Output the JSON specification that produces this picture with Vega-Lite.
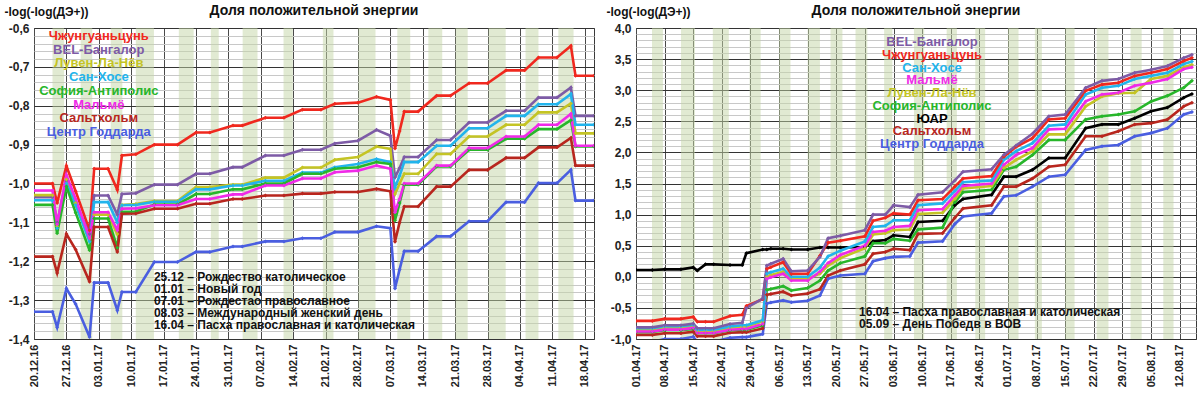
{
  "$schema": "https://vega.github.io/schema/vega-lite/v6.json",
  "background": "white",
  "padding": {"left": 3, "top": 3, "right": 5, "bottom": 0},
  "spacing": 10,
  "config": {
    "font": "Liberation Sans",
    "view": {"stroke": "#3a3a3a", "strokeWidth": 1},
    "axis": {"labelFont": "Liberation Sans", "labelFontWeight": "bold", "labelColor": "#222", "ticks": false, "domain": false, "titleFont": "Liberation Sans", "titleFontWeight": "bold", "titleFontSize": 12, "titleColor": "#111"},
    "axisX": {"labelOverlap": false, "labelBound": false},
    "title": {"font": "Liberation Sans", "fontSize": 14, "fontWeight": "bold", "color": "#111"}
  },
  "datasets": {
    "series": [
      {"s": "R", "name": "Чжунгуаньцунь"},
      {"s": "P", "name": "BEL-Бангалор"},
      {"s": "Y", "name": "Лувен-Ла-Нёв"},
      {"s": "C", "name": "Сан-Хосе"},
      {"s": "G", "name": "София-Антиполис"},
      {"s": "M", "name": "Мальмё"},
      {"s": "K", "name": "ЮАР"},
      {"s": "B", "name": "Сальтхольм"},
      {"s": "U", "name": "Центр Годдарда"}
    ],
    "labelsLeft": [
      {"name": "Чжунгуаньцунь", "k": 1},
      {"name": "BEL-Бангалор", "k": 2},
      {"name": "Лувен-Ла-Нёв", "k": 3},
      {"name": "Сан-Хосе", "k": 4},
      {"name": "София-Антиполис", "k": 5},
      {"name": "Мальмё", "k": 6},
      {"name": "Сальтхольм", "k": 7},
      {"name": "Центр Годдарда", "k": 8}
    ],
    "labelsRight": [
      {"name": "BEL-Бангалор", "k": 1},
      {"name": "Чжунгуаньцунь", "k": 2},
      {"name": "Сан-Хосе", "k": 3},
      {"name": "Мальмё", "k": 4},
      {"name": "Лувен-Ла-Нёв", "k": 5},
      {"name": "София-Антиполис", "k": 6},
      {"name": "ЮАР", "k": 7},
      {"name": "Сальтхольм", "k": 8},
      {"name": "Центр Годдарда", "k": 9}
    ],
    "bandsLeft": [
      {"a": "2016-12-24 00:00", "b": "2016-12-26 12:00"},
      {"a": "2016-12-30 02:00", "b": "2017-01-01 14:00"},
      {"a": "2017-01-05 14:00", "b": "2017-01-08 02:00"},
      {"a": "2017-01-11 00:00", "b": "2017-01-14 22:00"},
      {"a": "2017-01-20 07:00", "b": "2017-01-23 12:00"},
      {"a": "2017-01-27 05:00", "b": "2017-01-28 22:00"},
      {"a": "2017-02-03 02:00", "b": "2017-02-06 07:00"},
      {"a": "2017-02-11 22:00", "b": "2017-02-13 22:00"},
      {"a": "2017-02-20 10:00", "b": "2017-02-22 17:00"},
      {"a": "2017-02-28 02:00", "b": "2017-03-03 19:00"},
      {"a": "2017-03-08 12:00", "b": "2017-03-11 07:00"},
      {"a": "2017-03-15 05:00", "b": "2017-03-18 05:00"},
      {"a": "2017-03-21 02:00", "b": "2017-03-23 17:00"},
      {"a": "2017-03-28 05:00", "b": "2017-03-31 22:00"},
      {"a": "2017-04-05 05:00", "b": "2017-04-08 00:00"},
      {"a": "2017-04-12 07:00", "b": "2017-04-15 14:00"}
    ],
    "bandsRight": [
      {"a": "2017-04-04 22:00", "b": "2017-04-07 14:00"},
      {"a": "2017-04-12 00:00", "b": "2017-04-15 10:00"},
      {"a": "2017-04-19 19:00", "b": "2017-04-23 17:00"},
      {"a": "2017-04-28 19:00", "b": "2017-05-01 12:00"},
      {"a": "2017-05-06 00:00", "b": "2017-05-08 19:00"},
      {"a": "2017-05-13 00:00", "b": "2017-05-16 00:00"},
      {"a": "2017-05-18 14:00", "b": "2017-05-21 12:00"},
      {"a": "2017-05-24 17:00", "b": "2017-05-27 14:00"},
      {"a": "2017-05-31 17:00", "b": "2017-06-02 17:00"},
      {"a": "2017-06-08 00:00", "b": "2017-06-10 12:00"},
      {"a": "2017-06-16 00:00", "b": "2017-06-18 12:00"},
      {"a": "2017-06-23 00:00", "b": "2017-06-25 10:00"},
      {"a": "2017-07-01 00:00", "b": "2017-07-03 14:00"},
      {"a": "2017-07-07 14:00", "b": "2017-07-09 07:00"},
      {"a": "2017-07-15 00:00", "b": "2017-07-17 07:00"},
      {"a": "2017-07-22 17:00", "b": "2017-07-25 14:00"},
      {"a": "2017-07-31 00:00", "b": "2017-08-02 17:00"},
      {"a": "2017-08-08 00:00", "b": "2017-08-10 12:00"}
    ],
    "left": [
      {"d": "2016-12-20", "R": -1.0, "P": -1.035, "Y": -1.03, "C": -1.043, "G": -1.055, "M": -1.018, "B": -1.188, "U": -1.33},
      {"d": "2016-12-24", "R": -1.0, "P": -1.035, "Y": -1.03, "C": -1.043, "G": -1.055, "M": -1.018, "B": -1.188, "U": -1.33},
      {"d": "2016-12-25", "R": -1.05, "P": -1.1, "Y": -1.11, "C": -1.115, "G": -1.128, "M": -1.105, "B": -1.23, "U": -1.37},
      {"d": "2016-12-27", "R": -0.955, "P": -0.993, "Y": -0.99, "C": -1.0, "G": -1.008, "M": -0.978, "B": -1.13, "U": -1.27},
      {"d": "2016-12-29", "R": -1.02, "P": -1.05, "Y": -1.05, "C": -1.055, "G": -1.075, "M": -1.04, "B": -1.17, "U": -1.31},
      {"d": "2017-01-01", "R": -1.12, "P": -1.13, "Y": -1.14, "C": -1.15, "G": -1.172, "M": -1.14, "B": -1.253, "U": -1.395},
      {"d": "2017-01-02", "R": -0.962, "P": -1.031, "Y": -1.08, "C": -1.048, "G": -1.09, "M": -1.074, "B": -1.112, "U": -1.255},
      {"d": "2017-01-05", "R": -0.962, "P": -1.031, "Y": -1.08, "C": -1.048, "G": -1.09, "M": -1.074, "B": -1.112, "U": -1.255},
      {"d": "2017-01-07", "R": -1.016, "P": -1.08, "Y": -1.13, "C": -1.1, "G": -1.165, "M": -1.12, "B": -1.176, "U": -1.326},
      {"d": "2017-01-08", "R": -0.928, "P": -1.027, "Y": -1.055, "C": -1.056, "G": -1.073, "M": -1.065, "B": -1.078, "U": -1.279},
      {"d": "2017-01-11", "R": -0.925, "P": -1.025, "Y": -1.053, "C": -1.055, "G": -1.072, "M": -1.064, "B": -1.077, "U": -1.279},
      {"d": "2017-01-15", "R": -0.9, "P": -1.003, "Y": -1.045, "C": -1.047, "G": -1.054, "M": -1.056, "B": -1.065, "U": -1.202},
      {"d": "2017-01-20", "R": -0.9, "P": -1.003, "Y": -1.045, "C": -1.047, "G": -1.054, "M": -1.056, "B": -1.065, "U": -1.202},
      {"d": "2017-01-24", "R": -0.869, "P": -0.975, "Y": -1.009, "C": -1.015, "G": -1.027, "M": -1.04, "B": -1.052, "U": -1.176},
      {"d": "2017-01-27", "R": -0.869, "P": -0.975, "Y": -1.009, "C": -1.015, "G": -1.027, "M": -1.04, "B": -1.052, "U": -1.176},
      {"d": "2017-02-01", "R": -0.851, "P": -0.958, "Y": -1.003, "C": -1.005, "G": -1.015, "M": -1.028, "B": -1.04, "U": -1.162},
      {"d": "2017-02-03", "R": -0.851, "P": -0.958, "Y": -1.003, "C": -1.005, "G": -1.015, "M": -1.028, "B": -1.04, "U": -1.162},
      {"d": "2017-02-08", "R": -0.831, "P": -0.928, "Y": -0.985, "C": -0.993, "G": -1.0, "M": -1.005, "B": -1.031, "U": -1.149},
      {"d": "2017-02-12", "R": -0.831, "P": -0.928, "Y": -0.985, "C": -0.993, "G": -1.0, "M": -1.005, "B": -1.031, "U": -1.149},
      {"d": "2017-02-16", "R": -0.81, "P": -0.913, "Y": -0.959, "C": -0.972, "G": -0.975, "M": -0.987, "B": -1.026, "U": -1.141},
      {"d": "2017-02-20", "R": -0.81, "P": -0.913, "Y": -0.959, "C": -0.972, "G": -0.975, "M": -0.987, "B": -1.026, "U": -1.141},
      {"d": "2017-02-23", "R": -0.795, "P": -0.897, "Y": -0.939, "C": -0.958, "G": -0.962, "M": -0.971, "B": -1.022, "U": -1.125},
      {"d": "2017-02-28", "R": -0.792, "P": -0.89, "Y": -0.932, "C": -0.95, "G": -0.958, "M": -0.967, "B": -1.022, "U": -1.125},
      {"d": "2017-03-04", "R": -0.777, "P": -0.862, "Y": -0.905, "C": -0.937, "G": -0.945, "M": -0.954, "B": -1.014, "U": -1.11},
      {"d": "2017-03-07", "R": -0.785, "P": -0.877, "Y": -0.911, "C": -0.945, "G": -0.95, "M": -0.962, "B": -1.02, "U": -1.115},
      {"d": "2017-03-08", "R": -0.91, "P": -0.984, "Y": -1.027, "C": -1.01, "G": -1.095, "M": -1.074, "B": -1.15, "U": -1.27},
      {"d": "2017-03-09", "R": -0.865, "P": -0.96, "Y": -1.0, "C": -0.98, "G": -1.05, "M": -1.04, "B": -1.1, "U": -1.221},
      {"d": "2017-03-10", "R": -0.815, "P": -0.932, "Y": -0.975, "C": -0.945, "G": -1.003, "M": -1.0, "B": -1.059, "U": -1.174},
      {"d": "2017-03-13", "R": -0.815, "P": -0.932, "Y": -0.975, "C": -0.945, "G": -1.003, "M": -1.0, "B": -1.059, "U": -1.174},
      {"d": "2017-03-17", "R": -0.774, "P": -0.888, "Y": -0.924, "C": -0.903, "G": -0.956, "M": -0.954, "B": -1.008, "U": -1.136},
      {"d": "2017-03-20", "R": -0.774, "P": -0.888, "Y": -0.924, "C": -0.903, "G": -0.956, "M": -0.954, "B": -1.008, "U": -1.136},
      {"d": "2017-03-24", "R": -0.742, "P": -0.843, "Y": -0.879, "C": -0.858, "G": -0.913, "M": -0.909, "B": -0.965, "U": -1.097},
      {"d": "2017-03-28", "R": -0.742, "P": -0.843, "Y": -0.879, "C": -0.858, "G": -0.913, "M": -0.909, "B": -0.965, "U": -1.097},
      {"d": "2017-04-01", "R": -0.709, "P": -0.813, "Y": -0.849, "C": -0.826, "G": -0.885, "M": -0.879, "B": -0.934, "U": -1.048},
      {"d": "2017-04-05", "R": -0.709, "P": -0.813, "Y": -0.849, "C": -0.826, "G": -0.885, "M": -0.879, "B": -0.934, "U": -1.048},
      {"d": "2017-04-08", "R": -0.676, "P": -0.779, "Y": -0.817, "C": -0.796, "G": -0.86, "M": -0.849, "B": -0.907, "U": -0.999},
      {"d": "2017-04-12", "R": -0.676, "P": -0.779, "Y": -0.817, "C": -0.796, "G": -0.86, "M": -0.849, "B": -0.907, "U": -0.999},
      {"d": "2017-04-15", "R": -0.646, "P": -0.753, "Y": -0.794, "C": -0.77, "G": -0.837, "M": -0.821, "B": -0.883, "U": -0.965},
      {"d": "2017-04-16", "R": -0.723, "P": -0.826, "Y": -0.871, "C": -0.849, "G": -0.905, "M": -0.903, "B": -0.954, "U": -1.044},
      {"d": "2017-04-20", "R": -0.723, "P": -0.826, "Y": -0.871, "C": -0.849, "G": -0.905, "M": -0.903, "B": -0.954, "U": -1.044}
    ],
    "right": [
      {"d": "2017-04-01", "P": -0.813, "R": -0.709, "C": -0.826, "M": -0.879, "Y": -0.849, "G": -0.885, "K": 0.11, "B": -0.934, "U": -1.048},
      {"d": "2017-04-05", "P": -0.813, "R": -0.709, "C": -0.826, "M": -0.879, "Y": -0.849, "G": -0.885, "K": 0.11, "B": -0.934, "U": -1.048},
      {"d": "2017-04-08", "P": -0.779, "R": -0.676, "C": -0.796, "M": -0.849, "Y": -0.817, "G": -0.86, "K": 0.12, "B": -0.907, "U": -0.999},
      {"d": "2017-04-12", "P": -0.779, "R": -0.676, "C": -0.796, "M": -0.849, "Y": -0.817, "G": -0.86, "K": 0.12, "B": -0.907, "U": -0.999},
      {"d": "2017-04-15", "P": -0.753, "R": -0.646, "C": -0.77, "M": -0.821, "Y": -0.794, "G": -0.837, "K": 0.15, "B": -0.883, "U": -0.965},
      {"d": "2017-04-16", "P": -0.826, "R": -0.723, "C": -0.849, "M": -0.903, "Y": -0.871, "G": -0.905, "K": 0.1, "B": -0.954, "U": -1.044},
      {"d": "2017-04-18", "P": -0.826, "R": -0.723, "C": -0.849, "M": -0.903, "Y": -0.871, "G": -0.905, "K": 0.2, "B": -0.954, "U": -1.044},
      {"d": "2017-04-20", "P": -0.826, "R": -0.723, "C": -0.849, "M": -0.903, "Y": -0.871, "G": -0.905, "K": 0.2, "B": -0.954, "U": -1.044},
      {"d": "2017-04-24", "P": -0.76, "R": -0.63, "C": -0.8, "M": -0.85, "Y": -0.82, "G": -0.86, "K": 0.19, "B": -0.9, "U": -0.98},
      {"d": "2017-04-27", "P": -0.74, "R": -0.61, "C": -0.78, "M": -0.84, "Y": -0.8, "G": -0.85, "K": 0.19, "B": -0.89, "U": -0.97},
      {"d": "2017-04-28", "P": -0.5, "R": -0.47, "C": -0.78, "M": -0.84, "Y": -0.8, "G": -0.85, "K": 0.38, "B": -0.89, "U": -0.97},
      {"d": "2017-05-02", "P": -0.35, "R": -0.36, "C": -0.7, "M": -0.76, "Y": -0.72, "G": -0.78, "K": 0.44, "B": -0.83, "U": -0.92},
      {"d": "2017-05-03", "P": 0.18, "R": 0.13, "C": 0.05, "M": -0.03, "Y": 0.0, "G": -0.21, "K": 0.44, "B": -0.29, "U": -0.43},
      {"d": "2017-05-04", "P": 0.21, "R": 0.155, "C": 0.073, "M": -0.008, "Y": 0.03, "G": -0.196, "K": 0.45, "B": -0.277, "U": -0.413},
      {"d": "2017-05-07", "P": 0.29, "R": 0.235, "C": 0.13, "M": 0.05, "Y": 0.08, "G": -0.15, "K": 0.45, "B": -0.24, "U": -0.38},
      {"d": "2017-05-09", "P": 0.09, "R": 0.047, "C": 0.0, "M": -0.06, "Y": -0.03, "G": -0.22, "K": 0.44, "B": -0.3, "U": -0.41},
      {"d": "2017-05-13", "P": 0.1, "R": 0.05, "C": 0.0, "M": -0.06, "Y": -0.03, "G": -0.18, "K": 0.44, "B": -0.27, "U": -0.385},
      {"d": "2017-05-16", "P": 0.32, "R": 0.34, "C": 0.15, "M": 0.08, "Y": 0.05, "G": -0.06, "K": 0.47, "B": -0.2, "U": -0.3},
      {"d": "2017-05-18", "P": 0.62, "R": 0.55, "C": 0.33, "M": 0.22, "Y": 0.18, "G": 0.1, "K": 0.47, "B": 0.02, "U": -0.03},
      {"d": "2017-05-21", "P": 0.66, "R": 0.58, "C": 0.42, "M": 0.35, "Y": 0.3, "G": 0.22, "K": 0.47, "B": 0.1, "U": 0.02},
      {"d": "2017-05-27", "P": 0.75, "R": 0.65, "C": 0.57, "M": 0.5, "Y": 0.46, "G": 0.33, "K": 0.48, "B": 0.2, "U": 0.05},
      {"d": "2017-05-29", "P": 1.0, "R": 0.9, "C": 0.8, "M": 0.72, "Y": 0.68, "G": 0.54, "K": 0.57, "B": 0.37, "U": 0.25},
      {"d": "2017-06-01", "P": 1.0, "R": 0.95, "C": 0.82, "M": 0.74, "Y": 0.7, "G": 0.54, "K": 0.59, "B": 0.4, "U": 0.3},
      {"d": "2017-06-03", "P": 1.15, "R": 1.02, "C": 0.91, "M": 0.8, "Y": 0.75, "G": 0.61, "K": 0.667, "B": 0.45, "U": 0.32},
      {"d": "2017-06-07", "P": 1.12, "R": 1.0, "C": 0.91, "M": 0.82, "Y": 0.76, "G": 0.58, "K": 0.64, "B": 0.43, "U": 0.33},
      {"d": "2017-06-09", "P": 1.32, "R": 1.23, "C": 1.15, "M": 1.07, "Y": 1.01, "G": 0.76, "K": 0.88, "B": 0.69, "U": 0.55},
      {"d": "2017-06-15", "P": 1.36, "R": 1.25, "C": 1.18, "M": 1.09, "Y": 1.03, "G": 0.79, "K": 0.9, "B": 0.7, "U": 0.57},
      {"d": "2017-06-18", "P": 1.55, "R": 1.45, "C": 1.38, "M": 1.31, "Y": 1.25, "G": 1.2, "K": 1.15, "B": 0.95, "U": 0.85},
      {"d": "2017-06-20", "P": 1.69, "R": 1.58, "C": 1.52, "M": 1.46, "Y": 1.42, "G": 1.36, "K": 1.25, "B": 1.1, "U": 0.97},
      {"d": "2017-06-27", "P": 1.73, "R": 1.62, "C": 1.55, "M": 1.5, "Y": 1.46, "G": 1.4, "K": 1.32, "B": 1.15, "U": 1.02},
      {"d": "2017-06-30", "P": 1.96, "R": 1.93, "C": 1.88, "M": 1.8, "Y": 1.75, "G": 1.72, "K": 1.61, "B": 1.45, "U": 1.29},
      {"d": "2017-07-03", "P": 2.11, "R": 2.09, "C": 2.02, "M": 1.96, "Y": 1.88, "G": 1.77, "K": 1.61, "B": 1.45, "U": 1.31},
      {"d": "2017-07-07", "P": 2.3, "R": 2.23, "C": 2.15, "M": 2.07, "Y": 2.02, "G": 1.96, "K": 1.72, "B": 1.58, "U": 1.45},
      {"d": "2017-07-11", "P": 2.58, "R": 2.53, "C": 2.43, "M": 2.37, "Y": 2.29, "G": 2.2, "K": 1.91, "B": 1.77, "U": 1.61},
      {"d": "2017-07-15", "P": 2.61, "R": 2.55, "C": 2.45, "M": 2.38, "Y": 2.29, "G": 2.2, "K": 1.91, "B": 1.8, "U": 1.64},
      {"d": "2017-07-20", "P": 3.04, "R": 2.99, "C": 2.93, "M": 2.82, "Y": 2.74, "G": 2.53, "K": 2.39, "B": 2.26, "U": 2.04},
      {"d": "2017-07-24", "P": 3.15, "R": 3.09, "C": 3.04, "M": 2.93, "Y": 2.9, "G": 2.58, "K": 2.45, "B": 2.26, "U": 2.1},
      {"d": "2017-07-28", "P": 3.18, "R": 3.12, "C": 3.07, "M": 2.96, "Y": 2.95, "G": 2.61, "K": 2.45, "B": 2.34, "U": 2.12},
      {"d": "2017-08-01", "P": 3.28, "R": 3.23, "C": 3.18, "M": 3.07, "Y": 2.96, "G": 2.66, "K": 2.55, "B": 2.45, "U": 2.26},
      {"d": "2017-08-05", "P": 3.33, "R": 3.28, "C": 3.23, "M": 3.12, "Y": 3.18, "G": 2.82, "K": 2.66, "B": 2.47, "U": 2.31},
      {"d": "2017-08-09", "P": 3.39, "R": 3.34, "C": 3.28, "M": 3.18, "Y": 3.23, "G": 2.91, "K": 2.72, "B": 2.53, "U": 2.39},
      {"d": "2017-08-13", "P": 3.52, "R": 3.47, "C": 3.42, "M": 3.34, "Y": 3.37, "G": 3.04, "K": 2.88, "B": 2.74, "U": 2.61},
      {"d": "2017-08-15", "P": 3.57, "R": 3.52, "C": 3.46, "M": 3.37, "Y": 3.41, "G": 3.15, "K": 2.94, "B": 2.8, "U": 2.65}
    ]
  },
  "hconcat": [
    {
      "width": 560,
      "height": 311,
      "title": {"text": "Доля положительной энергии", "frame": "group", "offset": -13},
      "resolve": {"scale": {"y": "independent"}},
      "layer": [
        {
          "layer": [
            {
              "data": {"name": "bandsLeft", "format": {"parse": {"a": "date:'%Y-%m-%d %H:%M'", "b": "date:'%Y-%m-%d %H:%M'"}}},
              "mark": {"type": "rect", "fill": "#c4d6a6", "opacity": 0.5},
              "encoding": {
                "x": {
                  "field": "a", "type": "temporal", "title": null,
                  "scale": {"domain": [{"year": 2016, "month": 12, "date": 20}, {"year": 2017, "month": 4, "date": 20}], "nice": false},
                  "axis": {
                    "values": [
                      {"year": 2016, "month": 12, "date": 20}, {"year": 2016, "month": 12, "date": 27},
                      {"year": 2017, "month": 1, "date": 3}, {"year": 2017, "month": 1, "date": 10},
                      {"year": 2017, "month": 1, "date": 17}, {"year": 2017, "month": 1, "date": 24},
                      {"year": 2017, "month": 1, "date": 31}, {"year": 2017, "month": 2, "date": 7},
                      {"year": 2017, "month": 2, "date": 14}, {"year": 2017, "month": 2, "date": 21},
                      {"year": 2017, "month": 2, "date": 28}, {"year": 2017, "month": 3, "date": 7},
                      {"year": 2017, "month": 3, "date": 14}, {"year": 2017, "month": 3, "date": 21},
                      {"year": 2017, "month": 3, "date": 28}, {"year": 2017, "month": 4, "date": 4},
                      {"year": 2017, "month": 4, "date": 11}, {"year": 2017, "month": 4, "date": 18}
                    ],
                    "tickCount": 40,
                    "labelExpr": "timeFormat(datum.value, '%d.%m.%y')",
                    "labelAngle": -90, "labelFontSize": 11, "labelPadding": 5, "labelFlush": false, "labelOverlap": false,
                    "grid": true, "gridColor": "#4a4a4a", "gridWidth": 1
                  }
                },
                "x2": {"field": "b"}
              }
            },
            {
              "data": {"name": "left", "format": {"parse": {"d": "date:'%Y-%m-%d'"}}},
              "transform": [
                {"fold": ["R", "P", "Y", "C", "G", "M", "B", "U"], "as": ["s", "v"]},
                {"lookup": "s", "from": {"data": {"name": "series"}, "key": "s", "fields": ["name"]}}
              ],
              "mark": {"type": "line", "strokeWidth": 2.6, "clip": true, "point": {"shape": "diamond", "size": 16, "filled": true, "clip": true}},
              "encoding": {
                "x": {"field": "d", "type": "temporal", "title": null},
                "y": {
                  "field": "v", "type": "quantitative",
                  "scale": {"domain": [-1.4, -0.6], "nice": false, "zero": false},
                  "axis": {
                    "title": "-log(-log(ДЭ+))", "titleAngle": 0, "titleAlign": "left", "titleBaseline": "middle", "titleX": -30, "titleY": -17,
                    "tickCount": 40, "labelOverlap": false, "labelFontSize": 12, "labelPadding": 5,
                    "labelExpr": "abs(datum.value*10 - round(datum.value*10)) < 0.01 ? replace(replace(format(round(datum.value*10)/10 + 0, '.1f'), '.', ','), '\u2212', '-') : ''",
                    "grid": true,
                    "gridColor": {"condition": {"test": "abs(datum.value*10 - round(datum.value*10)) < 0.01", "value": "#333333"}, "value": "#c8c8c8"}
                  }
                },
                "color": {
                  "field": "name", "type": "nominal", "legend": null,
                  "scale": {
                    "domain": ["Чжунгуаньцунь", "BEL-Бангалор", "Лувен-Ла-Нёв", "Сан-Хосе", "София-Антиполис", "Мальмё", "ЮАР", "Сальтхольм", "Центр Годдарда"],
                    "range": ["#f0281e", "#7d5ba6", "#c4c425", "#22b4ec", "#27b62a", "#f02ae8", "#000000", "#b8261e", "#4a5ee0"]
                  }
                }
              }
            },
            {
              "data": {"values": [{}]},
              "mark": {"type": "text", "align": "left", "baseline": "top", "fontSize": 12, "fontWeight": "bold", "lineHeight": 12, "color": "#111",
                "text": ["25.12 – Рождество католическое", "01.01 – Новый год", "07.01 – Рождестао православное", "08.03 – Международный женский день", "16.04 – Пасха православная и католическая"]},
              "encoding": {
                "x": {"datum": {"year": 2017, "month": 1, "date": 14, "hours": 22}, "type": "temporal"},
                "y": {"datum": -1.227, "type": "quantitative"}
              }
            }
          ]
        },
        {
          "data": {"name": "labelsLeft"},
          "mark": {"type": "text", "fontSize": 13, "fontWeight": "bold", "align": "center", "baseline": "middle"},
          "encoding": {
            "x": {"datum": {"year": 2017, "month": 1, "date": 3}, "type": "temporal"},
            "y": {"field": "name", "type": "nominal", "sort": {"field": "k", "op": "min"}, "scale": {"type": "point", "range": [8, 104], "padding": 0}, "axis": null},
            "text": {"field": "name"},
            "color": {
              "field": "name", "type": "nominal", "legend": null,
              "scale": {
                "domain": ["Чжунгуаньцунь", "BEL-Бангалор", "Лувен-Ла-Нёв", "Сан-Хосе", "София-Антиполис", "Мальмё", "ЮАР", "Сальтхольм", "Центр Годдарда"],
                "range": ["#f0281e", "#7d5ba6", "#c4c425", "#22b4ec", "#27b62a", "#f02ae8", "#000000", "#b8261e", "#4a5ee0"]
              }
            }
          }
        }
      ]
    },
    {
      "width": 560,
      "height": 311,
      "title": {"text": "Доля положительной энергии", "frame": "group", "offset": -13},
      "resolve": {"scale": {"y": "independent"}},
      "layer": [
        {
          "layer": [
            {
              "data": {"name": "bandsRight", "format": {"parse": {"a": "date:'%Y-%m-%d %H:%M'", "b": "date:'%Y-%m-%d %H:%M'"}}},
              "mark": {"type": "rect", "fill": "#c4d6a6", "opacity": 0.5},
              "encoding": {
                "x": {
                  "field": "a", "type": "temporal", "title": null,
                  "scale": {"domain": [{"year": 2017, "month": 4, "date": 1}, {"year": 2017, "month": 8, "date": 16}], "nice": false},
                  "axis": {
                    "values": [
                      {"year": 2017, "month": 4, "date": 1}, {"year": 2017, "month": 4, "date": 8},
                      {"year": 2017, "month": 4, "date": 15}, {"year": 2017, "month": 4, "date": 22},
                      {"year": 2017, "month": 4, "date": 29}, {"year": 2017, "month": 5, "date": 6},
                      {"year": 2017, "month": 5, "date": 13}, {"year": 2017, "month": 5, "date": 20},
                      {"year": 2017, "month": 5, "date": 27}, {"year": 2017, "month": 6, "date": 3},
                      {"year": 2017, "month": 6, "date": 10}, {"year": 2017, "month": 6, "date": 17},
                      {"year": 2017, "month": 6, "date": 24}, {"year": 2017, "month": 7, "date": 1},
                      {"year": 2017, "month": 7, "date": 8}, {"year": 2017, "month": 7, "date": 15},
                      {"year": 2017, "month": 7, "date": 22}, {"year": 2017, "month": 7, "date": 29},
                      {"year": 2017, "month": 8, "date": 5}, {"year": 2017, "month": 8, "date": 12}
                    ],
                    "tickCount": 40,
                    "labelExpr": "timeFormat(datum.value, '%d.%m.%y')",
                    "labelAngle": -90, "labelFontSize": 11, "labelPadding": 5, "labelFlush": false, "labelOverlap": false,
                    "grid": true, "gridColor": "#4a4a4a", "gridWidth": 1
                  }
                },
                "x2": {"field": "b"}
              }
            },
            {
              "data": {"name": "right", "format": {"parse": {"d": "date:'%Y-%m-%d'"}}},
              "transform": [
                {"fold": ["K", "U", "B", "G", "Y", "M", "C", "R", "P"], "as": ["s", "v"]},
                {"lookup": "s", "from": {"data": {"name": "series"}, "key": "s", "fields": ["name"]}}
              ],
              "mark": {"type": "line", "strokeWidth": 2.6, "clip": true, "point": {"shape": "diamond", "size": 16, "filled": true, "clip": true}},
              "encoding": {
                "x": {"field": "d", "type": "temporal", "title": null},
                "y": {
                  "field": "v", "type": "quantitative",
                  "scale": {"domain": [-1.0, 4.0], "nice": false, "zero": false},
                  "axis": {
                    "title": "-log(-log(ДЭ+))", "titleAngle": 0, "titleAlign": "left", "titleBaseline": "middle", "titleX": -30, "titleY": -17,
                    "tickCount": 50, "labelOverlap": false, "labelFontSize": 12, "labelPadding": 5,
                    "labelExpr": "abs(datum.value*2 - round(datum.value*2)) < 0.01 ? replace(replace(format(round(datum.value*10)/10 + 0, '.1f'), '.', ','), '\u2212', '-') : ''",
                    "grid": true,
                    "gridColor": {"condition": {"test": "abs(datum.value*2 - round(datum.value*2)) < 0.01", "value": "#333333"}, "value": "#c8c8c8"}
                  }
                },
                "color": {
                  "field": "name", "type": "nominal", "legend": null,
                  "scale": {
                    "domain": ["Чжунгуаньцунь", "BEL-Бангалор", "Лувен-Ла-Нёв", "Сан-Хосе", "София-Антиполис", "Мальмё", "ЮАР", "Сальтхольм", "Центр Годдарда"],
                    "range": ["#f0281e", "#7d5ba6", "#c4c425", "#22b4ec", "#27b62a", "#f02ae8", "#000000", "#b8261e", "#4a5ee0"]
                  }
                }
              }
            },
            {
              "data": {"values": [{}]},
              "mark": {"type": "text", "align": "left", "baseline": "top", "fontSize": 12, "fontWeight": "bold", "lineHeight": 12, "color": "#111",
                "text": ["16.04 – Пасха православная и католическая", "05.09 – День Победв в ВОВ"]},
              "encoding": {
                "x": {"datum": {"year": 2017, "month": 5, "date": 25, "hours": 14}, "type": "temporal"},
                "y": {"datum": -0.49, "type": "quantitative"}
              }
            }
          ]
        },
        {
          "data": {"name": "labelsRight"},
          "mark": {"type": "text", "fontSize": 13, "fontWeight": "bold", "align": "center", "baseline": "middle"},
          "encoding": {
            "x": {"datum": {"year": 2017, "month": 6, "date": 12, "hours": 10}, "type": "temporal"},
            "y": {"field": "name", "type": "nominal", "sort": {"field": "k", "op": "min"}, "scale": {"type": "point", "range": [14, 116], "padding": 0}, "axis": null},
            "text": {"field": "name"},
            "color": {
              "field": "name", "type": "nominal", "legend": null,
              "scale": {
                "domain": ["Чжунгуаньцунь", "BEL-Бангалор", "Лувен-Ла-Нёв", "Сан-Хосе", "София-Антиполис", "Мальмё", "ЮАР", "Сальтхольм", "Центр Годдарда"],
                "range": ["#f0281e", "#7d5ba6", "#c4c425", "#22b4ec", "#27b62a", "#f02ae8", "#000000", "#b8261e", "#4a5ee0"]
              }
            }
          }
        }
      ]
    }
  ]
}
